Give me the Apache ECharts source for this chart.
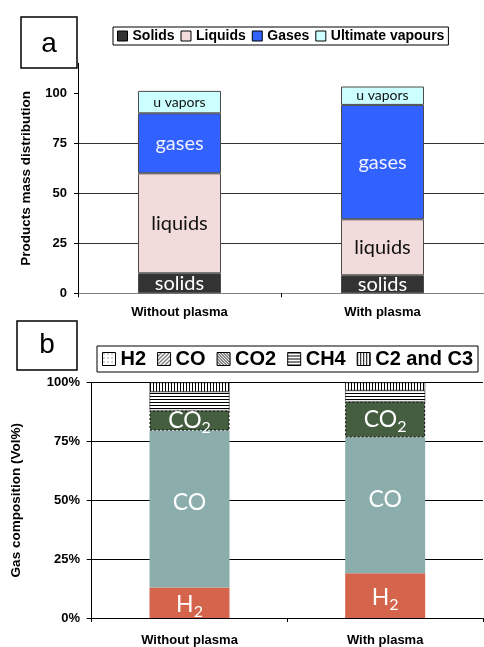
<!DOCTYPE html>
<html><head><meta charset="utf-8">
<script src="https://cdn.jsdelivr.net/npm/echarts@6/dist/echarts.min.js"></script>
<style>html,body{margin:0;padding:0;background:#fff}#c{width:484px;height:647px}</style>
</head><body><div id="c"></div>
<script>
// ---- Panel a data ----
const categories = ['Without plasma', 'With plasma'];
const massSeriesNames = ['Solids', 'Liquids', 'Gases', 'Ultimate vapours'];
const solids = [10, 9];
const liquids = [50, 28];
const gases = [30, 57.2];
const vapours = [11.2, 9.2];
const massTicks = [0, 25, 50, 75, 100];

// ---- Panel b data ----
const gasSeriesNames = ['H2', 'CO', 'CO2', 'CH4', 'C2 and C3'];
const h2 = [13, 19];
const co = [66.6, 57.7];
const co2 = [8.5, 15.2];
const ch4 = [8, 4.7];
const c2c3 = [3.9, 3.4];
const pctTicks = [0, 25, 50, 75, 100];

function pat(w, h, pts, ink) {
  const c = document.createElement('canvas'); c.width = w; c.height = h;
  const g = c.getContext('2d'); g.fillStyle = '#fff'; g.fillRect(0, 0, w, h);
  g.fillStyle = ink || '#000'; pts.forEach(p => g.fillRect(p[0], p[1], 1, 1));
  return { image: c, repeat: 'repeat' };
}
const horiz = pat(1, 3, [[0, 0]]);
const vert = pat(3, 1, [[0, 0]]);
const diagF = pat(4, 4, [[3, 0], [2, 1], [1, 2], [0, 3]]);
const diagB = pat(3, 3, [[0, 0], [1, 1], [2, 2]]);
const dots = pat(4, 4, [[1, 1]], '#555');

const AR = 'Liberation Sans';
const CAL = 'Lato';

function massBar(name, data, color, text, tcolor, fsize) {
  return {
    name, type: 'bar', xAxisIndex: 0, yAxisIndex: 0, stack: 'mass', barWidth: 83, data,
    itemStyle: { color, borderColor: '#4a4a4a', borderWidth: 1 },
    label: { show: true, position: 'inside', formatter: text, color: tcolor, fontFamily: CAL, fontSize: fsize }
  };
}
function gasBar(name, data, color, labelText, extra, labelOffset) {
  return {
    name, type: 'bar', xAxisIndex: 1, yAxisIndex: 1, stack: 'gas', barWidth: 80, data,
    itemStyle: Object.assign({ color }, extra || {}),
    label: labelText ? {
      show: true, position: 'inside', formatter: labelText, offset: labelOffset || [0, 0],
      rich: {
        m: { fontSize: 23, color: '#fff', fontFamily: CAL },
        s: { fontSize: 16, color: '#fff', fontFamily: CAL, padding: [14, 0, 0, 0] }
      }
    } : { show: false }
  };
}

const chart = echarts.init(document.getElementById('c'), null, { renderer: 'canvas' });
chart.setOption({
  animation: false,
  backgroundColor: '#fff',
  legend: [
    {
      left: 113, top: 27, data: massSeriesNames, icon: 'rect', itemWidth: 10, itemHeight: 10, itemGap: 6,
      padding: [2, 4, 2, 4], borderColor: '#000', borderWidth: 1, selectedMode: false,
      textStyle: { fontFamily: AR, fontWeight: 'bold', fontSize: 14, color: '#000' },
      itemStyle: { borderColor: '#000', borderWidth: 1 }
    },
    {
      left: 97, top: 346, icon: 'rect', itemWidth: 13, itemHeight: 13, itemGap: 11,
      padding: [3, 5, 3, 5], borderColor: '#000', borderWidth: 1, selectedMode: false,
      textStyle: { fontFamily: AR, fontWeight: 'bold', fontSize: 20, color: '#000' },
      data: [
        { name: gasSeriesNames[0], itemStyle: { color: dots, borderColor: '#000', borderWidth: 1 } },
        { name: gasSeriesNames[1], itemStyle: { color: diagF, borderColor: '#000', borderWidth: 1 } },
        { name: gasSeriesNames[2], itemStyle: { color: diagB, borderColor: '#000', borderWidth: 1 } },
        { name: gasSeriesNames[3], itemStyle: { color: horiz, borderColor: '#000', borderWidth: 1 } },
        { name: gasSeriesNames[4], itemStyle: { color: vert, borderColor: '#000', borderWidth: 1 } }
      ]
    }
  ],
  grid: [
    { left: 78, top: 63.3, width: 416, height: 230 },
    { left: 91.7, top: 382.5, width: 391.3, height: 236.8 }
  ],
  xAxis: [
    {
      type: 'category', gridIndex: 0, data: categories,
      axisLine: { lineStyle: { color: '#808080', width: 1 } },
      axisTick: { show: true, length: 4, lineStyle: { color: '#000' } },
      axisLabel: { margin: 13, fontFamily: AR, fontWeight: 'bold', fontSize: 13, color: '#000' }
    },
    {
      type: 'category', gridIndex: 1, data: categories,
      axisLine: { lineStyle: { color: '#000', width: 1 } },
      axisTick: { show: true, length: 4, lineStyle: { color: '#000' } },
      axisLabel: { margin: 16, fontFamily: AR, fontWeight: 'bold', fontSize: 13, color: '#000' }
    }
  ],
  yAxis: [
    {
      type: 'value', gridIndex: 0, min: 0, max: 115, interval: 25,
      name: 'Products mass distribution', nameLocation: 'middle', nameGap: 45,
      nameTextStyle: { fontFamily: AR, fontWeight: 'bold', fontSize: 13.5, color: '#000' },
      axisLine: { show: true, lineStyle: { color: '#000' } },
      axisTick: { show: true, length: 4, customValues: massTicks, lineStyle: { color: '#000' } },
      axisLabel: { customValues: massTicks, margin: 11, fontFamily: AR, fontWeight: 'bold', fontSize: 13, color: '#000' },
      splitLine: { show: true, showMaxLine: false, lineStyle: { color: '#333' } }
    },
    {
      type: 'value', gridIndex: 1, min: 0, max: 100, interval: 25,
      name: 'Gas composition (Vol%)', nameLocation: 'middle', nameGap: 68,
      nameTextStyle: { fontFamily: AR, fontWeight: 'bold', fontSize: 13.5, color: '#000' },
      axisLine: { show: true, lineStyle: { color: '#000' } },
      axisTick: { show: true, length: 5, lineStyle: { color: '#000' } },
      axisLabel: { margin: 11.7, formatter: '{value}%', fontFamily: AR, fontWeight: 'bold', fontSize: 13, color: '#000' },
      splitLine: { show: true, lineStyle: { color: '#000' } }
    }
  ],
  series: [
    massBar(massSeriesNames[0], solids, '#333333', 'solids', '#ffffff', 20),
    massBar(massSeriesNames[1], liquids, '#F2DCDB', 'liquids', '#111111', 20),
    massBar(massSeriesNames[2], gases, '#3161FF', 'gases', '#F0F0FF', 20),
    massBar(massSeriesNames[3], vapours, '#CCFFFF', 'u vapors', '#111111', 14),
    gasBar(gasSeriesNames[0], h2, '#D4644B', '{m|H}{s|2}', null, [0, 2]),
    gasBar(gasSeriesNames[1], co, '#8BADAC', '{m|CO}', null, [0, -6]),
    gasBar(gasSeriesNames[2], co2, '#445E3F', '{m|CO}{s|2}', { borderColor: '#000', borderWidth: 1, borderType: [2, 2] }),
    gasBar(gasSeriesNames[3], ch4, horiz, null, { borderColor: '#000', borderWidth: 0.5 }),
    gasBar(gasSeriesNames[4], c2c3, vert, null, { borderColor: '#000', borderWidth: 0.5 })
  ],
  graphic: [
    { type: 'rect', shape: { x: 21, y: 17, width: 56, height: 51 }, style: { fill: '#fff', stroke: '#000', lineWidth: 1.5 } },
    { type: 'text', x: 49, y: 44, style: { text: 'a', fontSize: 28, fontFamily: AR, fill: '#000', align: 'center', verticalAlign: 'middle' } },
    { type: 'rect', shape: { x: 17, y: 321, width: 60, height: 49 }, style: { fill: '#fff', stroke: '#000', lineWidth: 1.5 } },
    { type: 'text', x: 47, y: 345, style: { text: 'b', fontSize: 28, fontFamily: AR, fill: '#000', align: 'center', verticalAlign: 'middle' } }
  ]
});
</script>
</body></html>
